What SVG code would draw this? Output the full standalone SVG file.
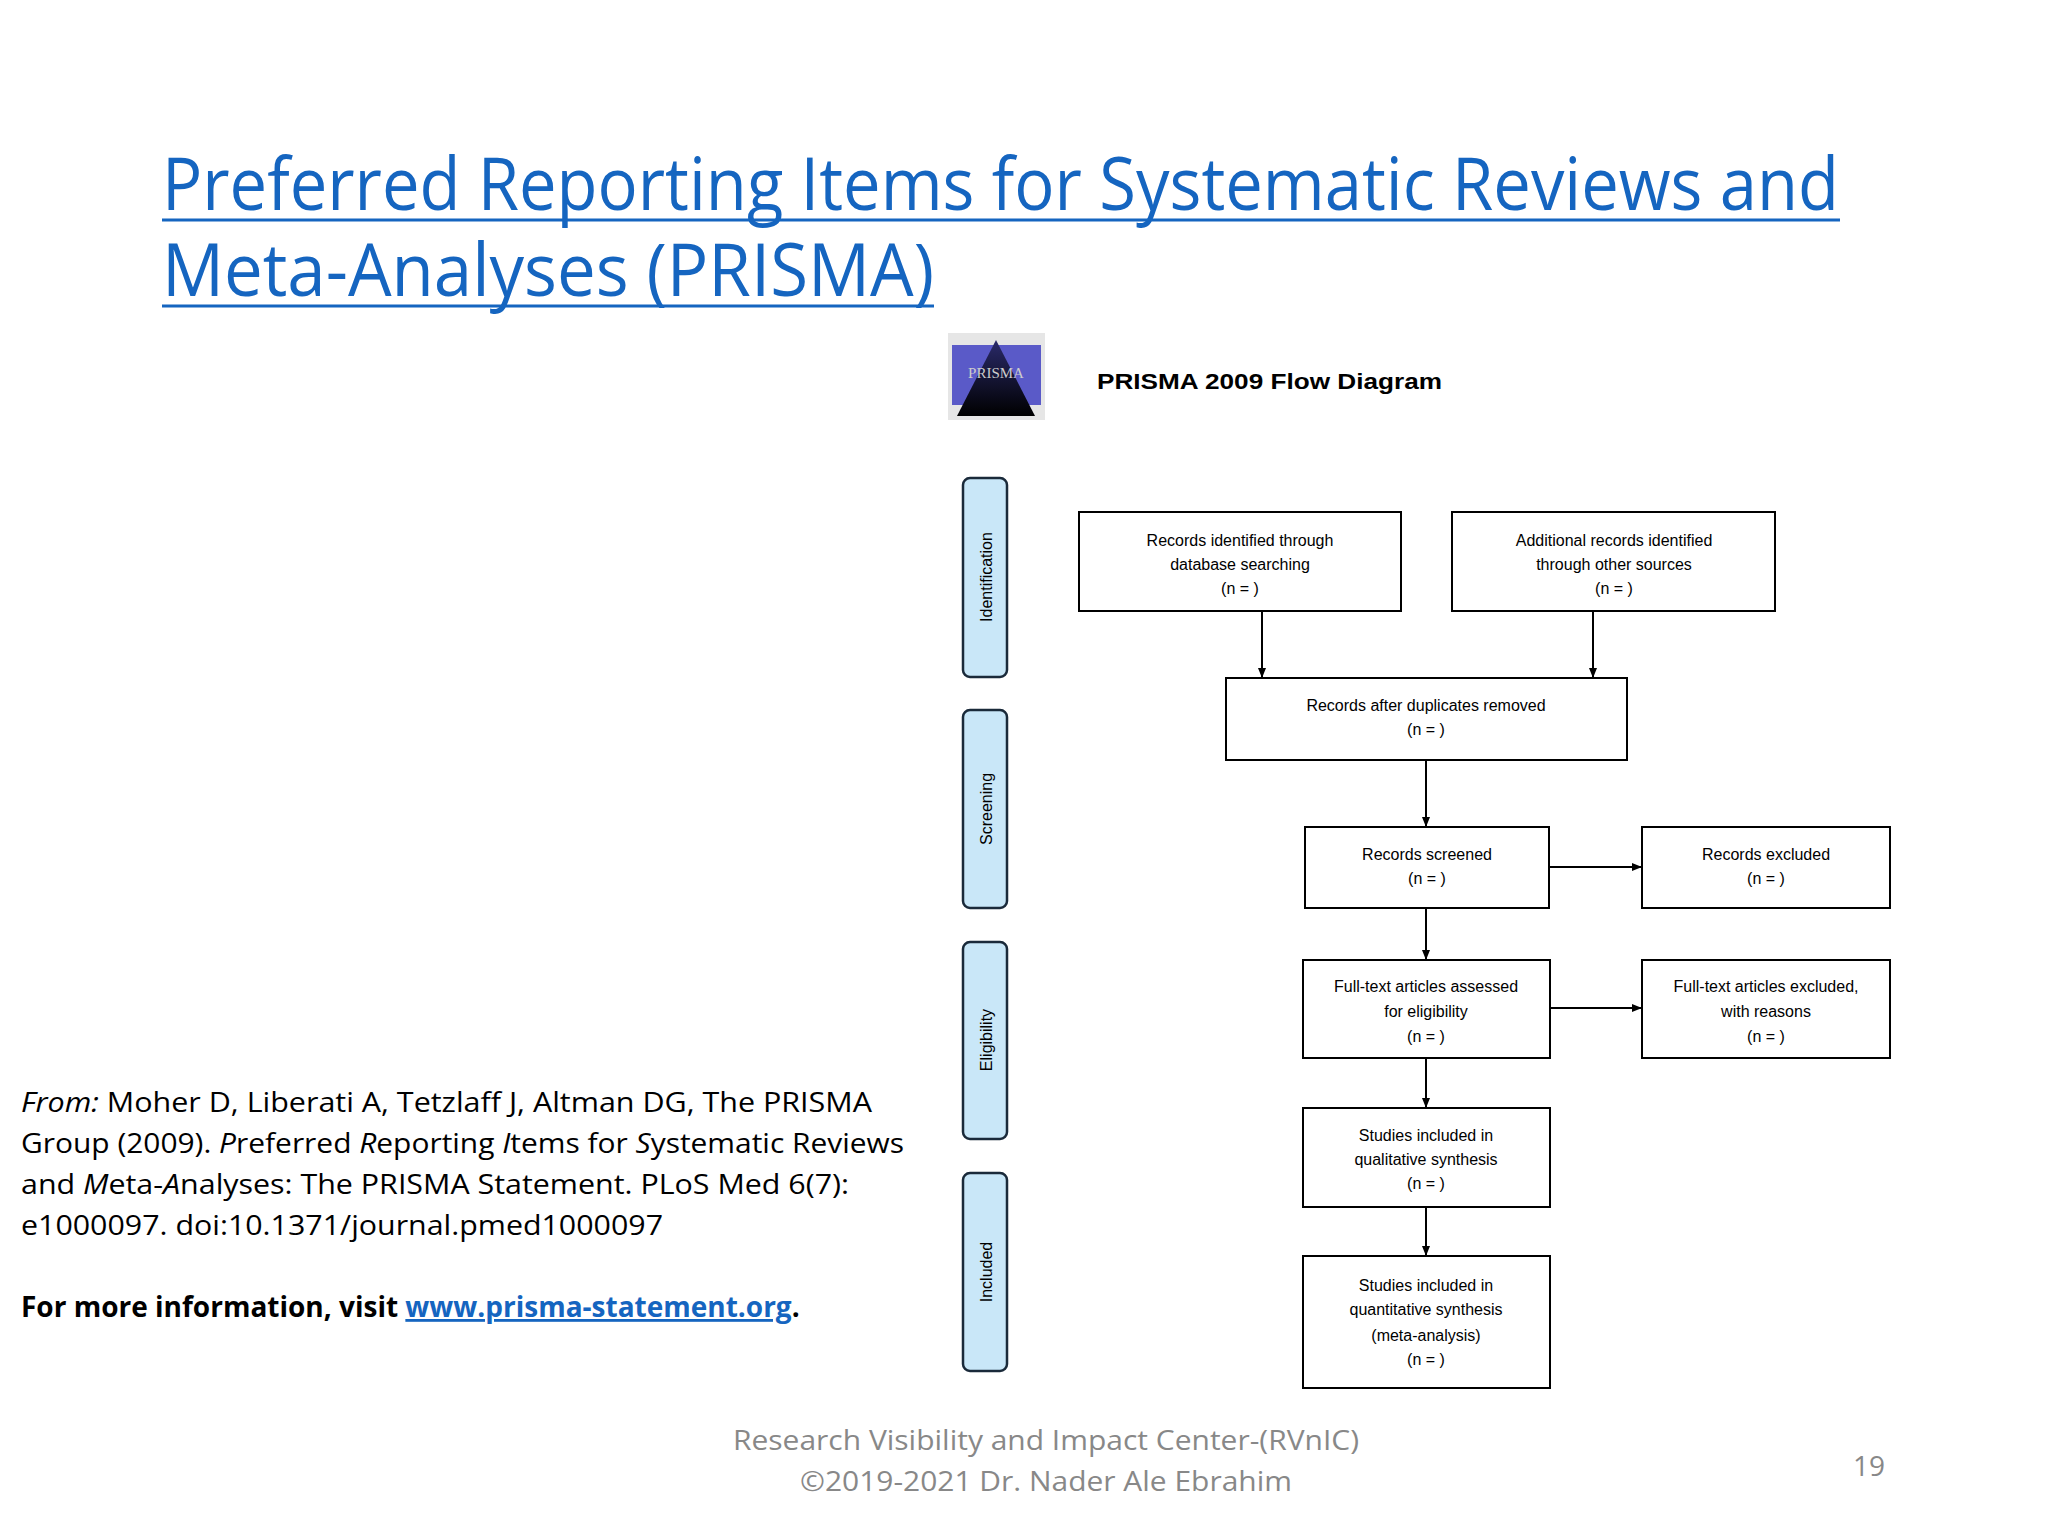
<svg xmlns="http://www.w3.org/2000/svg" width="2048" height="1536" viewBox="0 0 2048 1536">
<defs>
<marker id="ah" markerWidth="10" markerHeight="10" refX="9" refY="5" orient="auto" markerUnits="userSpaceOnUse"><path d="M0,1 L10,5 L0,9 Z" fill="#000"/></marker>
<linearGradient id="lg" x1="0" y1="0" x2="0" y2="1"><stop offset="0" stop-color="#2a2a6a"/><stop offset="1" stop-color="#000"/></linearGradient>
</defs>
<style>
.box{fill:#fff;stroke:#000;stroke-width:2}
.side{fill:#c9e7f8;stroke:#1a2a3a;stroke-width:2.5}
.bt{font-family:"Liberation Sans",Arial,sans-serif;font-size:16px;text-anchor:middle;fill:#000}
.st{font-family:"Liberation Sans",Arial,sans-serif;font-size:16px;text-anchor:middle;fill:#000}
.ln{stroke:#000;stroke-width:2;fill:none;marker-end:url(#ah)}
.body{font-family:"Open Sans","Liberation Sans",sans-serif;font-size:28px;fill:#000}
.foot{font-family:"Open Sans","Liberation Sans",sans-serif;font-size:28px;fill:#888;text-anchor:middle}
</style>
<rect width="2048" height="1536" fill="#fff"/>
<g id="title" font-family="Open Sans, Liberation Sans, sans-serif" font-size="74" fill="#1565c0">
<text x="162" y="210" textLength="1677" lengthAdjust="spacingAndGlyphs">Preferred Reporting Items for Systematic Reviews and</text>
<text x="162" y="296" textLength="772" lengthAdjust="spacingAndGlyphs">Meta-Analyses (PRISMA)</text>
<line x1="162" y1="220" x2="1840" y2="220" stroke="#1565c0" stroke-width="3"/>
<line x1="162" y1="306" x2="934" y2="306" stroke="#1565c0" stroke-width="3"/>
</g>
<g id="logo">
<rect x="948" y="333" width="97" height="87" fill="#e6e6e6"/>
<rect x="952" y="345" width="89" height="60" fill="#5a5ac8"/>
<polygon points="996,340 1035,416 957,416" fill="url(#lg)"/>
<text x="996" y="378" font-family="Liberation Serif, serif" font-size="15" fill="#ccc" text-anchor="middle">PRISMA</text>
</g>
<g id="heading"><text x="1097" y="389" font-family="Liberation Sans, Arial, sans-serif" font-size="22" font-weight="bold" textLength="345" lengthAdjust="spacingAndGlyphs">PRISMA  2009  Flow  Diagram</text></g>
<g id="side-identification"><rect class="side" x="963" y="478" width="44" height="199" rx="7"/><text class="st" transform="translate(992,577) rotate(-90)">Identification</text></g>
<g id="side-screening"><rect class="side" x="963" y="710" width="44" height="198" rx="7"/><text class="st" transform="translate(992,809) rotate(-90)">Screening</text></g>
<g id="side-eligibility"><rect class="side" x="963" y="942" width="44" height="197" rx="7"/><text class="st" transform="translate(992,1040) rotate(-90)">Eligibility</text></g>
<g id="side-included"><rect class="side" x="963" y="1173" width="44" height="198" rx="7"/><text class="st" transform="translate(992,1272) rotate(-90)">Included</text></g>
<g id="connectors">
<line class="ln" x1="1262" y1="611" x2="1262" y2="677"/>
<line class="ln" x1="1593" y1="611" x2="1593" y2="677"/>
<line class="ln" x1="1426" y1="760" x2="1426" y2="826"/>
<line class="ln" x1="1549" y1="867" x2="1641" y2="867"/>
<line class="ln" x1="1426" y1="908" x2="1426" y2="959"/>
<line class="ln" x1="1550" y1="1008" x2="1641" y2="1008"/>
<line class="ln" x1="1426" y1="1058" x2="1426" y2="1107"/>
<line class="ln" x1="1426" y1="1207" x2="1426" y2="1255"/>
</g>
<g id="b1"><rect class="box" x="1079" y="512" width="322" height="99"/><text class="bt" x="1240" y="546">Records identified through</text><text class="bt" x="1240" y="570">database searching</text><text class="bt" x="1240" y="594">(n =   )</text></g>
<g id="b2"><rect class="box" x="1452" y="512" width="323" height="99"/><text class="bt" x="1614" y="546">Additional records identified</text><text class="bt" x="1614" y="570">through other sources</text><text class="bt" x="1614" y="594">(n =   )</text></g>
<g id="b3"><rect class="box" x="1226" y="678" width="401" height="82"/><text class="bt" x="1426" y="711">Records after duplicates removed</text><text class="bt" x="1426" y="735">(n =   )</text></g>
<g id="b4"><rect class="box" x="1305" y="827" width="244" height="81"/><text class="bt" x="1427" y="860">Records screened</text><text class="bt" x="1427" y="884">(n =   )</text></g>
<g id="b5"><rect class="box" x="1642" y="827" width="248" height="81"/><text class="bt" x="1766" y="860">Records excluded</text><text class="bt" x="1766" y="884">(n =   )</text></g>
<g id="b6"><rect class="box" x="1303" y="960" width="247" height="98"/><text class="bt" x="1426" y="992">Full-text articles assessed</text><text class="bt" x="1426" y="1017">for eligibility</text><text class="bt" x="1426" y="1042">(n =   )</text></g>
<g id="b7"><rect class="box" x="1642" y="960" width="248" height="98"/><text class="bt" x="1766" y="992">Full-text articles excluded,</text><text class="bt" x="1766" y="1017">with reasons</text><text class="bt" x="1766" y="1042">(n =   )</text></g>
<g id="b8"><rect class="box" x="1303" y="1108" width="247" height="99"/><text class="bt" x="1426" y="1141">Studies included in</text><text class="bt" x="1426" y="1165">qualitative synthesis</text><text class="bt" x="1426" y="1189">(n =   )</text></g>
<g id="b9"><rect class="box" x="1303" y="1256" width="247" height="132"/><text class="bt" x="1426" y="1291">Studies included in</text><text class="bt" x="1426" y="1315">quantitative synthesis</text><text class="bt" x="1426" y="1341">(meta-analysis)</text><text class="bt" x="1426" y="1365">(n =   )</text></g>
<g id="citation">
<text class="body" x="21" y="1112" textLength="851" lengthAdjust="spacingAndGlyphs"><tspan font-style="italic">From:</tspan>  Moher D, Liberati A, Tetzlaff J, Altman DG, The PRISMA</text>
<text class="body" x="21" y="1153" textLength="883" lengthAdjust="spacingAndGlyphs">Group (2009). <tspan font-style="italic">P</tspan>referred <tspan font-style="italic">R</tspan>eporting <tspan font-style="italic">I</tspan>tems for <tspan font-style="italic">S</tspan>ystematic Reviews</text>
<text class="body" x="21" y="1194" textLength="828" lengthAdjust="spacingAndGlyphs">and <tspan font-style="italic">M</tspan>eta-<tspan font-style="italic">A</tspan>nalyses: The PRISMA Statement. PLoS Med 6(7):</text>
<text class="body" x="21" y="1235" textLength="642" lengthAdjust="spacingAndGlyphs">e1000097. doi:10.1371/journal.pmed1000097</text>
<text class="body" x="21" y="1317" font-weight="bold">For more information, visit <tspan fill="#1565c0" text-decoration="underline">www.prisma-statement.org</tspan>.</text>
</g>
<g id="footer">
<text class="foot" x="1046" y="1450" textLength="626" lengthAdjust="spacingAndGlyphs">Research Visibility and Impact Center-(RVnIC)</text>
<text class="foot" x="1046" y="1491" textLength="492" lengthAdjust="spacingAndGlyphs">©2019-2021 Dr. Nader Ale Ebrahim</text>
<text class="foot" x="1869" y="1476">19</text>
</g>
</svg>
